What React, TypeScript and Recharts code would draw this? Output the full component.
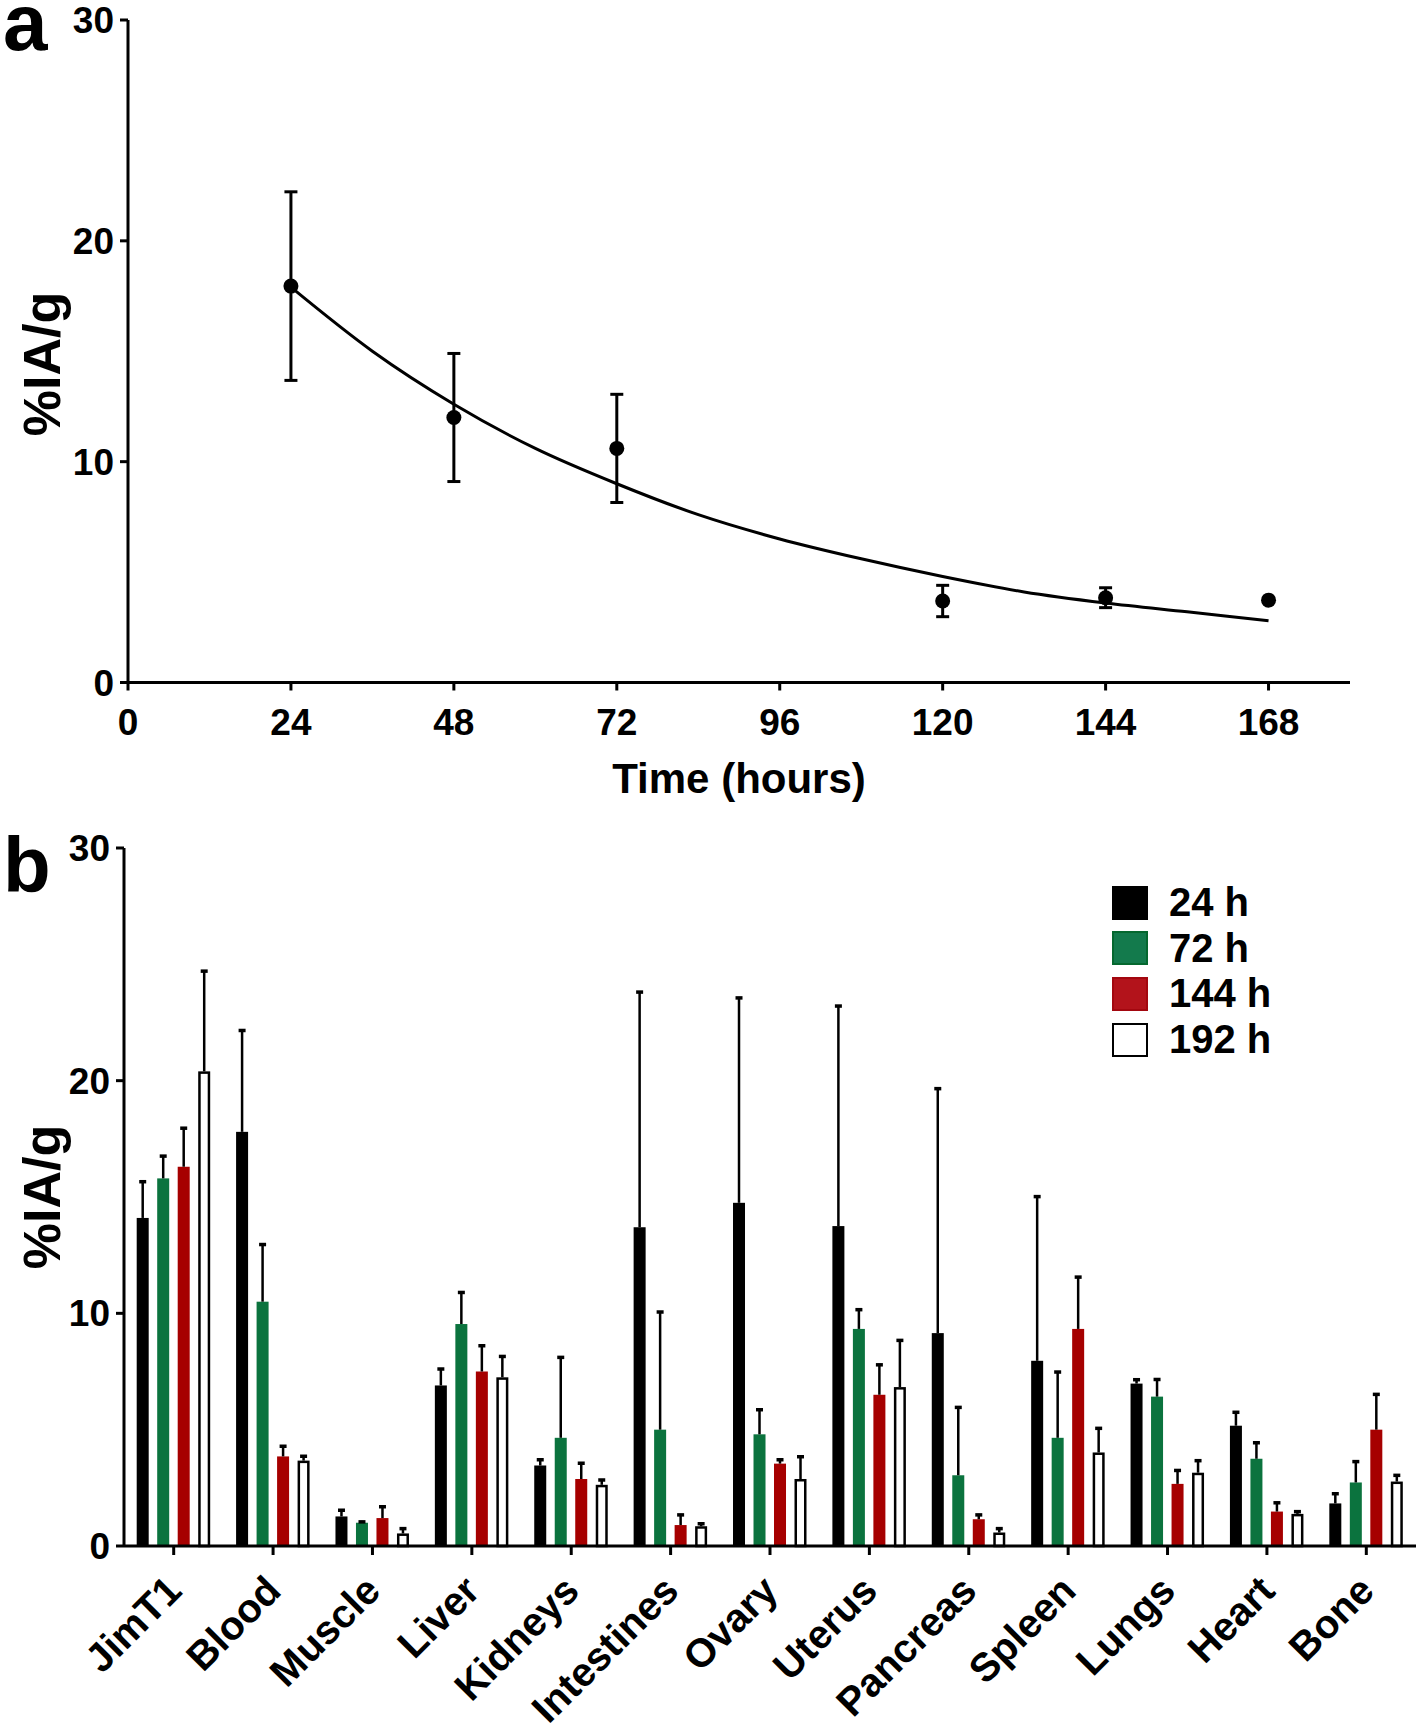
import React from 'react';
import { ComposedChart, BarChart, Bar, Line, Scatter, XAxis, YAxis, ErrorBar, Legend } from 'recharts';

const FONT = "'Liberation Sans', Arial, Helvetica, sans-serif";

// ---------- Panel a data ----------
const timePoints = [24, 48, 72, 120, 144, 168];
const timeMeans = [17.95, 12.0, 10.6, 3.69, 3.84, 3.73];
const timeSD = [4.27, 2.9, 2.45, 0.71, 0.45, 0];
const fitTimes = [24, 36, 48, 60, 72, 84, 96, 108, 120, 132, 144, 156, 168];
const fitValues = [17.9, 15.0, 12.6, 10.6, 9.0, 7.6, 6.5, 5.6, 4.8, 4.1, 3.6, 3.2, 2.8];
const timeTicks = [0, 24, 48, 72, 96, 120, 144, 168];
const yTicks = [0, 10, 20, 30];

// ---------- Panel b data ----------
const organs = ['JimT1', 'Blood', 'Muscle', 'Liver', 'Kidneys', 'Intestines', 'Ovary', 'Uterus', 'Pancreas', 'Spleen', 'Lungs', 'Heart', 'Bone'];
const seriesNames = ['24 h', '72 h', '144 h', '192 h'];
const mean24h = [14.1, 17.8, 1.27, 6.9, 3.46, 13.7, 14.75, 13.75, 9.15, 7.96, 6.98, 5.17, 1.83];
const sd24h = [1.6, 4.4, 0.31, 0.75, 0.29, 10.15, 8.85, 9.5, 10.55, 7.1, 0.21, 0.62, 0.46];
const mean72h = [15.8, 10.5, 1.0, 9.54, 4.65, 5.0, 4.8, 9.33, 3.04, 4.65, 6.42, 3.75, 2.73];
const sd72h = [1.0, 2.5, 0.08, 1.4, 3.5, 5.1, 1.1, 0.87, 2.96, 2.87, 0.78, 0.73, 0.94];
const mean144h = [16.3, 3.85, 1.2, 7.5, 2.88, 0.9, 3.54, 6.5, 1.15, 9.33, 2.67, 1.48, 5.0];
const sd144h = [1.7, 0.48, 0.53, 1.15, 0.72, 0.48, 0.21, 1.33, 0.23, 2.27, 0.62, 0.42, 1.56];
const mean192h = [20.4, 3.67, 0.54, 7.25, 2.63, 0.85, 2.88, 6.83, 0.58, 4.02, 3.15, 1.38, 2.77];
const sd192h = [4.35, 0.23, 0.25, 0.94, 0.25, 0.15, 1.0, 2.05, 0.21, 1.08, 0.56, 0.14, 0.31];

const seriesFill = ['#000000', '#0b733e', '#a60000', '#ffffff'];
const legendFill = ['#000000', '#137a4c', '#b3131b', '#ffffff'];
const legendStroke = ['#000000', '#05682f', '#a3070f', '#000000'];

const scatterData = timePoints.map((t, i) => ({ t, v: timeMeans[i], sd: timeSD[i] }));
const fitData = fitTimes.map((t, i) => ({ t, v: fitValues[i] }));
const allMeans = [mean24h, mean72h, mean144h, mean192h];
const allSD = [sd24h, sd72h, sd144h, sd192h];
const barData = organs.map((organ, i) => {
  const row: any = { organ };
  allMeans.forEach((arr, s) => {
    row[`m${s}`] = arr[i];
    row[`e${s}`] = allSD[s][i];
  });
  return row;
});

const textStyle = { fontFamily: FONT, fontWeight: 'bold' as const, fill: '#000' };

const XTickA = (props: any) => {
  const { x, y, payload } = props;
  return (
    <text x={x} y={y} dy={42.5} textAnchor="middle" fontSize={37} {...textStyle}>
      {payload.value}
    </text>
  );
};

const YTick = (props: any) => {
  const { x, y, payload } = props;
  return (
    <text x={x} y={y} dx={-4} dy={13} textAnchor="end" fontSize={37} {...textStyle}>
      {payload.value}
    </text>
  );
};

const XTickB = (props: any) => {
  const { x, y, payload } = props;
  const ax = x + 10;
  const ay = y + 36;
  return (
    <text x={ax} y={ay} transform={`rotate(-45 ${ax} ${ay})`} textAnchor="end" fontSize={40} {...textStyle}>
      {payload.value}
    </text>
  );
};

const makeBarShape = (s: number) => (props: any) => {
  const { x, y, width, height, payload } = props;
  const mean = payload[`m${s}`];
  const err = payload[`e${s}`];
  const pxPerUnit = mean > 0 ? height / mean : 0;
  const topY = y - err * pxPerUnit;
  const cx = x + width / 2;
  const hollow = s === 3;
  return (
    <g>
      {hollow ? (
        <rect x={x + 1.25} y={y + 1.25} width={width - 2.5} height={Math.max(0, height - 1.25)} fill="#fff" stroke="#000" strokeWidth={2.5} />
      ) : (
        <rect x={x} y={y} width={width} height={height} fill={seriesFill[s]} />
      )}
      <line x1={cx} x2={cx} y1={y} y2={topY} stroke="#000" strokeWidth={2.5} />
      <line x1={cx - 3.5} x2={cx + 3.5} y1={topY + 1} y2={topY + 1} stroke="#000" strokeWidth={3.5} />
    </g>
  );
};

const LegendBox = () => (
  <div style={{ fontFamily: FONT, fontWeight: 'bold', fontSize: 40, color: '#000' }}>
    {seriesNames.map((name, i) => (
      <div key={name} style={{ display: 'flex', alignItems: 'center', height: 45.6 }}>
        <div
          style={{
            width: 32,
            height: 30,
            background: legendFill[i],
            border: `2px solid ${legendStroke[i]}`,
            marginRight: 21,
          }}
        />
        <span style={{ lineHeight: '45px' }}>{name}</span>
      </div>
    ))}
  </div>
);

const dotShape = (p: any) => <circle cx={p.cx} cy={p.cy} r={7.5} fill="#000" />;

export default function App() {
  return (
    <div style={{ position: 'absolute', left: 0, top: 0, width: 1418, height: 1732, background: '#fff', overflow: 'hidden' }}>
      <div style={{ position: 'absolute', left: 0, top: 0 }}>
        <ComposedChart width={1418} height={810} margin={{ top: 20, right: 68, bottom: 0, left: 0 }}>
          <XAxis
            dataKey="t"
            type="number"
            domain={[0, 180]}
            ticks={timeTicks}
            height={127.5}
            axisLine={{ stroke: '#000', strokeWidth: 3 }}
            tickLine={{ stroke: '#000', strokeWidth: 3 }}
            tickSize={8}
            tick={<XTickA />}
            label={{
              content: () => (
                <text x={739} y={793} textAnchor="middle" fontSize={42} {...textStyle}>
                  Time (hours)
                </text>
              ),
            }}
          />
          <YAxis
            dataKey="v"
            type="number"
            domain={[0, 30]}
            ticks={yTicks}
            width={128}
            axisLine={{ stroke: '#000', strokeWidth: 3 }}
            tickLine={{ stroke: '#000', strokeWidth: 3 }}
            tickSize={8}
            tick={<YTick />}
            label={{
              content: () => (
                <text x={60} y={364} transform="rotate(-90 60 364)" textAnchor="middle" fontSize={52} {...textStyle}>
                  %IA/g
                </text>
              ),
            }}
          />
          <Line data={fitData} dataKey="v" type="monotone" stroke="#000" strokeWidth={3} dot={false} activeDot={false} isAnimationActive={false} />
          <Scatter data={scatterData} dataKey="v" fill="#000" shape={dotShape} isAnimationActive={false}>
            <ErrorBar dataKey="sd" direction="y" width={6.5} stroke="#000" strokeWidth={3} isAnimationActive={false} />
          </Scatter>
        </ComposedChart>
      </div>
      <div style={{ position: 'absolute', left: 0, top: 810 }}>
        <BarChart
          width={1418}
          height={922}
          data={barData}
          margin={{ top: 38, right: 2, bottom: 0, left: 0 }}
          barCategoryGap={12.7}
          barGap={8.5}
        >
          <XAxis
            dataKey="organ"
            interval={0}
            height={186}
            axisLine={{ stroke: '#000', strokeWidth: 3 }}
            tickLine={{ stroke: '#000', strokeWidth: 3 }}
            tickSize={9}
            tick={<XTickB />}
          />
          <YAxis
            type="number"
            domain={[0, 30]}
            ticks={yTicks}
            width={124}
            axisLine={{ stroke: '#000', strokeWidth: 3 }}
            tickLine={{ stroke: '#000', strokeWidth: 3 }}
            tickSize={8}
            tick={<YTick />}
            label={{
              content: () => (
                <text x={60} y={387} transform="rotate(-90 60 387)" textAnchor="middle" fontSize={52} {...textStyle}>
                  %IA/g
                </text>
              ),
            }}
          />
          <Legend
            layout="vertical"
            align="center"
            verticalAlign="middle"
            content={<LegendBox />}
            wrapperStyle={{ position: 'absolute', left: 1112, top: 70, width: 260, height: 190 }}
          />
          {seriesNames.map((name, s) => (
            <Bar
              key={name}
              dataKey={`m${s}`}
              name={name}
              fill={seriesFill[s]}
              stroke={s === 3 ? '#000' : 'none'}
              shape={makeBarShape(s)}
              isAnimationActive={false}
            />
          ))}
        </BarChart>
      </div>
      <svg width={120} height={1732} style={{ position: 'absolute', left: 0, top: 0 }}>
        <text x={3} y={50} fontSize={80} {...textStyle}>a</text>
        <text x={3} y={892} fontSize={78} {...textStyle}>b</text>
      </svg>
    </div>
  );
}
